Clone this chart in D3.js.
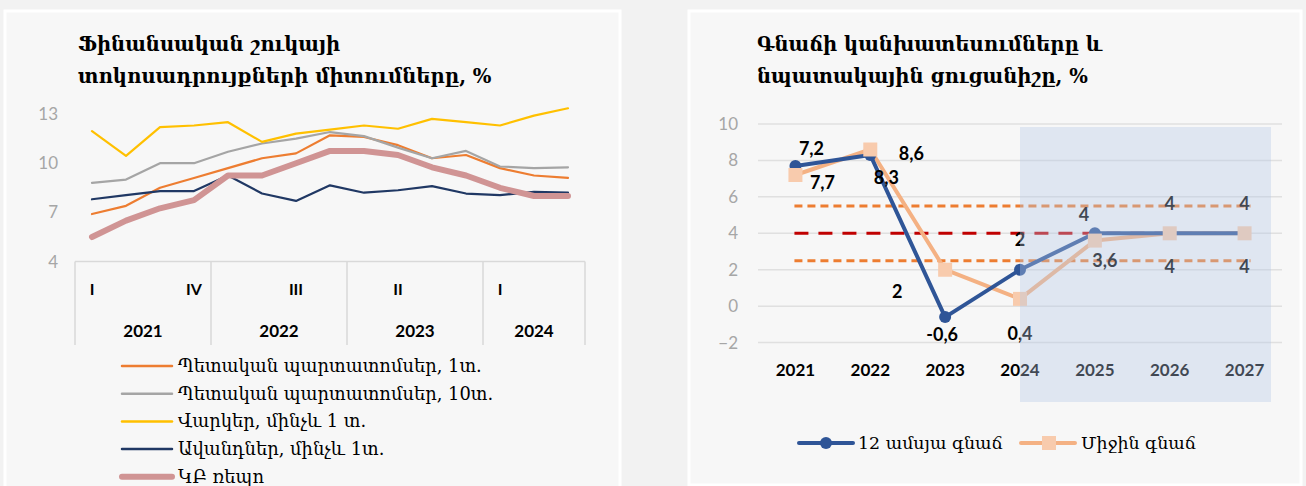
<!DOCTYPE html>
<html>
<head>
<meta charset="utf-8">
<script src="https://cdn.jsdelivr.net/npm/d3@7"></script>
<style>
  html, body { margin: 0; padding: 0; background: #f2f2f2; }
  svg { display: block; }
</style>
</head>
<body>
<svg id="chart" width="1306" height="486"></svg>
<script>
// ---------- Left panel: financial market rates, quarterly ----------
const quarters = ["I","II","III","IV","I","II","III","IV","I","II","III","IV","I","II","III"];
const quarterTickLabels = ["I","","","IV","","","III","","","II","","","I","",""];
const years = ["2021","2022","2023","2024"];
const quartersPerYear = [4, 4, 4, 3];
const rateTicks = [4, 7, 10, 13];

const govBonds1y  = [6.9, 7.4, 8.5, 9.1, 9.7, 10.3, 10.6, 11.7, 11.6, 11.1, 10.3, 10.5, 9.7, 9.25, 9.1];
const govBonds10y = [8.8, 9.0, 10.0, 10.0, 10.7, 11.2, 11.5, 11.9, 11.65, 10.95, 10.3, 10.75, 9.8, 9.7, 9.75];
const loans1y     = [11.95, 10.45, 12.2, 12.3, 12.5, 11.3, 11.8, 12.05, 12.3, 12.1, 12.7, 12.5, 12.3, 12.9, 13.35];
const deposits1y  = [7.8, 8.05, 8.3, 8.3, 9.25, 8.15, 7.7, 8.65, 8.2, 8.35, 8.6, 8.15, 8.05, 8.25, 8.2];
const cbRate      = [5.5, 6.5, 7.25, 7.75, 9.25, 9.25, 10.0, 10.75, 10.75, 10.5, 9.75, 9.25, 8.5, 8.0, 8.0];

const leftSeriesNames = [
  "Պետական պարտատոմսեր, 1տ.",
  "Պետական պարտատոմսեր, 10տ.",
  "Վարկեր, մինչև 1 տ.",
  "Ավանդներ, մինչև 1տ.",
  "ԿԲ ռեպո"
];

// ---------- Right panel: inflation forecast and target ----------
const forecastYears = ["2021","2022","2023","2024","2025","2026","2027"];
const inflation12m  = [7.7, 8.3, -0.6, 2.0, 4.0, 4.0, 4.0];
const inflationAvg  = [7.2, 8.6, 2.0, 0.4, 3.6, 4.0, 4.0];
const inflationTarget = 4;
const targetBandLow  = 2.5;
const targetBandHigh = 5.5;
const inflationTicks = [-2, 0, 2, 4, 6, 8, 10];
const forecastStart = "2024";
const rightSeriesNames = ["12 ամսյա գնաճ", "Միջին գնաճ"];

const ARM = "'DejaVu Serif', serif";
const NUM = "Lato, 'Open Sans', sans-serif";

const svg = d3.select("#chart");

// panels
const panels = [
  {x: 5, y: 11, w: 615, h: 490},
  {x: 689, y: 11, w: 612, h: 474}
];
svg.selectAll("rect.panel").data(panels).join("rect")
  .attr("class", "panel")
  .attr("x", d => d.x).attr("y", d => d.y)
  .attr("width", d => d.w).attr("height", d => d.h)
  .attr("fill", "#f7f7f7").attr("stroke", "#ffffff").attr("stroke-width", 3);

// titles
function title(x, lines) {
  const t = svg.append("text")
    .attr("font-family", ARM).attr("font-weight", "bold")
    .attr("font-size", 19.6).attr("fill", "#000");
  lines.forEach((s, i) => t.append("tspan").attr("x", x).attr("y", 51 + i * 32).text(s));
}
title(78, ["Ֆինանսական շուկայի", "տոկոսադրույքների միտումները, %"]);
title(757, ["Գնաճի կանխատեսումները և", "նպատակային ցուցանիշը, %"]);

// ===== Left chart =====
const L = {left: 75, right: 585, top: 114, bottom: 262};
const xL = d3.scaleBand().domain(d3.range(quarters.length)).range([L.left, L.right]);
const yL = d3.scaleLinear().domain([4, 13]).range([261.6, 114]);

const gL = svg.append("g");

// y tick labels
const yAxisL = d3.axisLeft(yL).tickValues(rateTicks).tickSize(0).tickPadding(0);
gL.append("g").attr("transform", `translate(${L.left - 17},0)`).call(yAxisL)
  .call(g => g.select(".domain").remove())
  .call(g => g.selectAll("text").attr("font-family", NUM).attr("font-size", 17).attr("fill", "#a6a6a6"));

// multi-level category axis
const axisColor = "#d9d9d9";
const boxTop = yL(4), boxBottom = 345;
gL.append("line").attr("x1", L.left).attr("x2", L.right).attr("y1", boxTop).attr("y2", boxTop)
  .attr("stroke", axisColor).attr("stroke-width", 1.5);
const yearStarts = d3.cumsum([0, ...quartersPerYear]);
gL.selectAll("line.sep").data(yearStarts).join("line")
  .attr("x1", d => d < quarters.length ? xL(d) : L.right)
  .attr("x2", d => d < quarters.length ? xL(d) : L.right)
  .attr("y1", boxTop).attr("y2", boxBottom)
  .attr("stroke", axisColor).attr("stroke-width", 1.5);
gL.selectAll("text.q").data(quarterTickLabels).join("text")
  .attr("x", (d, i) => xL(i) + xL.bandwidth() / 2).attr("y", 295)
  .attr("text-anchor", "middle").attr("font-family", NUM).attr("font-weight", "bold")
  .attr("font-size", 16).attr("fill", "#000").text(d => d);
gL.selectAll("text.yr").data(years).join("text")
  .attr("x", (d, i) => {
    const a = xL(yearStarts[i]);
    const bEnd = yearStarts[i + 1] < quarters.length ? xL(yearStarts[i + 1]) : L.right;
    return (a + bEnd) / 2;
  })
  .attr("y", 337).attr("text-anchor", "middle").attr("font-family", NUM).attr("font-weight", "bold")
  .attr("font-size", 17).attr("fill", "#000").text(d => d);

const leftSeries = [
  {values: govBonds1y,  color: "#ed7d31", width: 2.2},
  {values: govBonds10y, color: "#a5a5a5", width: 2.2},
  {values: loans1y,     color: "#ffc000", width: 2.2},
  {values: deposits1y,  color: "#203864", width: 2.2},
  {values: cbRate,      color: "#d09494", width: 6}
];
const lineL = d3.line().x((d, i) => xL(i) + xL.bandwidth() / 2).y(d => yL(d));
gL.selectAll("path.s").data(leftSeries).join("path")
  .attr("d", d => lineL(d.values)).attr("fill", "none")
  .attr("stroke", d => d.color).attr("stroke-width", d => d.width)
  .attr("stroke-linejoin", "round").attr("stroke-linecap", "round");

// left legend
const legL = gL.selectAll("g.leg").data(leftSeries).join("g")
  .attr("transform", (d, i) => `translate(122,${366 + i * 27.7})`);
legL.append("line").attr("x1", 0).attr("x2", 50).attr("y1", 0).attr("y2", 0)
  .attr("stroke", d => d.color).attr("stroke-width", d => d.width === 6 ? 6 : 2.5)
  .attr("stroke-linecap", "round");
legL.append("text").attr("x", 56).attr("y", 6)
  .attr("font-family", ARM).attr("font-size", 17.9).attr("fill", "#000")
  .text((d, i) => leftSeriesNames[i]);

// ===== Right chart =====
const R = {left: 758, right: 1282};
const xR = d3.scaleBand().domain(forecastYears).range([R.left, R.right]);
const yR = d3.scaleLinear().domain([-2, 10]).range([342.6, 124]);
const cx = d => xR(d) + xR.bandwidth() / 2;
const gR = svg.append("g");

// gridlines
gR.selectAll("line.grid").data(inflationTicks).join("line")
  .attr("x1", R.left).attr("x2", R.right).attr("y1", d => yR(d)).attr("y2", d => yR(d))
  .attr("stroke", "#e0e0e0").attr("stroke-width", 1.5);
const yAxisR = d3.axisLeft(yR).tickValues(inflationTicks).tickSize(0).tickPadding(0);
gR.append("g").attr("transform", `translate(738,0)`).call(yAxisR)
  .call(g => g.select(".domain").remove())
  .call(g => g.selectAll("text").attr("font-family", NUM).attr("font-size", 17).attr("fill", "#a6a6a6"));

// x labels
gR.selectAll("text.xl").data(forecastYears).join("text")
  .attr("x", d => cx(d)).attr("y", 376).attr("text-anchor", "middle")
  .attr("font-family", NUM).attr("font-weight", "bold").attr("font-size", 17).attr("fill", "#000")
  .text(d => d);

// target and band
const refX1 = cx(forecastYears[0]) - 1, refX2 = cx(forecastYears[forecastYears.length - 1]) + 6;
[
  {v: targetBandHigh, color: "#ed7d31", dash: "8,5"},
  {v: targetBandLow,  color: "#ed7d31", dash: "8,5"},
  {v: inflationTarget, color: "#c00000", dash: "14,10"}
].forEach(r => {
  gR.append("line").attr("x1", refX1).attr("x2", refX2).attr("y1", yR(r.v)).attr("y2", yR(r.v))
    .attr("stroke", r.color).attr("stroke-width", 3).attr("stroke-dasharray", r.dash);
});

// series
const lineR = d3.line().x((d, i) => cx(forecastYears[i])).y(d => yR(d));
gR.append("path").attr("d", lineR(inflationAvg)).attr("fill", "none")
  .attr("stroke", "#f4b183").attr("stroke-width", 4).attr("stroke-linejoin", "round");
gR.append("path").attr("d", lineR(inflation12m)).attr("fill", "none")
  .attr("stroke", "#2f5597").attr("stroke-width", 4).attr("stroke-linejoin", "round");
gR.selectAll("circle.m").data(inflation12m).join("circle")
  .attr("cx", (d, i) => cx(forecastYears[i])).attr("cy", d => yR(d)).attr("r", 6)
  .attr("fill", "#2f5597");
gR.selectAll("rect.m").data(inflationAvg).join("rect")
  .attr("x", (d, i) => cx(forecastYears[i]) - 7).attr("y", d => yR(d) - 7)
  .attr("width", 14).attr("height", 14).attr("fill", "#f8cbad");

// data labels (offsets relative to each point)
const fmt = v => String(v).replace(".", ",");
const offs12m = [[27, 17], [16, 23], [-3, 18], [0, -30], [-11, -18], [0, -29], [0, -29]];
const offsAvg = [[16, -26], [41, 4], [-48, 22], [0, 35], [10, 20], [0, 34], [0, 34]];
function labels(values, offs) {
  gR.selectAll(null).data(values).join("text")
    .attr("x", (d, i) => cx(forecastYears[i]) + offs[i][0])
    .attr("y", (d, i) => yR(d) + offs[i][1] + 6)
    .attr("text-anchor", "middle").attr("font-family", NUM).attr("font-weight", "bold")
    .attr("font-size", 18).attr("fill", "#000").text(d => fmt(d));
}
labels(inflation12m, offs12m);
labels(inflationAvg, offsAvg);

// forecast shading over the projection years
gR.append("rect")
  .attr("x", cx(forecastStart)).attr("y", 127)
  .attr("width", R.right - 11 - cx(forecastStart)).attr("height", 275)
  .attr("fill", "#b4c7e7").attr("opacity", 0.36);

// right legend
const legR = gR.append("g").attr("transform", "translate(0,443)");
legR.append("line").attr("x1", 799).attr("x2", 853).attr("stroke", "#2f5597").attr("stroke-width", 4).attr("stroke-linecap", "round");
legR.append("circle").attr("cx", 826).attr("cy", 0).attr("r", 6).attr("fill", "#2f5597");
legR.append("text").attr("x", 858).attr("y", 6).attr("font-family", ARM).attr("font-size", 17.4).text(rightSeriesNames[0]);
legR.append("line").attr("x1", 1021).attr("x2", 1075).attr("stroke", "#f4b183").attr("stroke-width", 4).attr("stroke-linecap", "round");
legR.append("rect").attr("x", 1042).attr("y", -7).attr("width", 14).attr("height", 14).attr("fill", "#f8cbad");
legR.append("text").attr("x", 1081).attr("y", 6).attr("font-family", ARM).attr("font-size", 17.4).text(rightSeriesNames[1]);
</script>
</body>
</html>
